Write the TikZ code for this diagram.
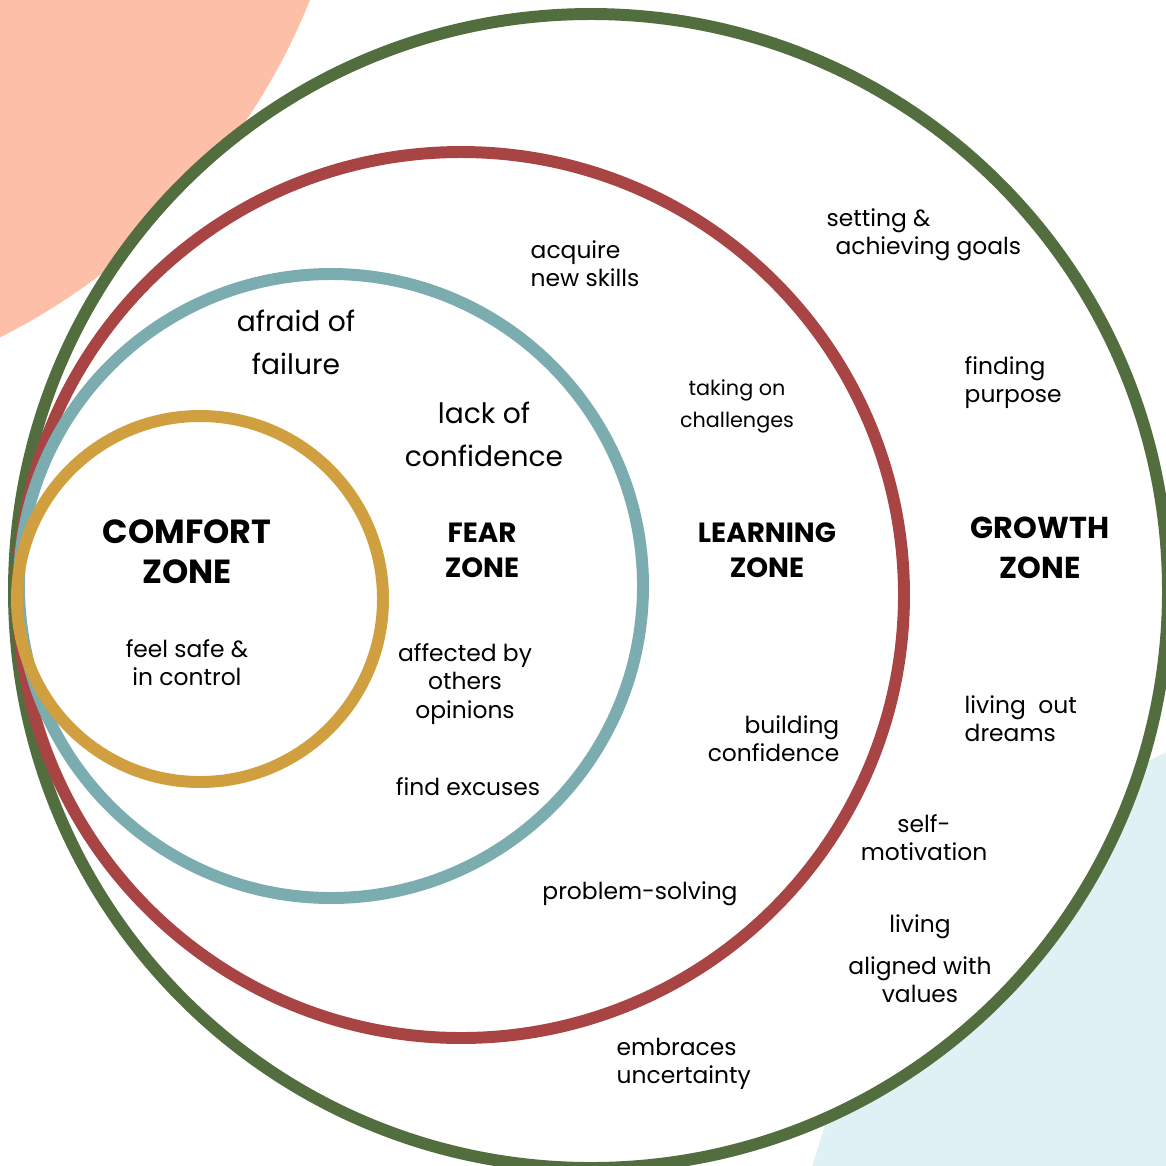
\documentclass[tikz,border=0pt]{standalone}
\usepackage{fontspec}
\setmainfont{Poppins}
\definecolor{ringgreen}{HTML}{536E3E}
\definecolor{ringred}{HTML}{A84444}
\definecolor{ringteal}{HTML}{7AACB0}
\definecolor{ringgold}{HTML}{CF9F40}
\definecolor{blobpeach}{HTML}{FDBFA8}
\definecolor{blobblue}{HTML}{E0F1F6}
\tikzset {
    zone ring/.style = {draw = #1, line width = 3.4pt},
    blob/.style = {fill = #1, draw = none},
    zone title/.style = {
        align = center, inner sep = 0pt,
        font = \bfseries\fontsize{#1}{11.4}\selectfont
    },
    zone title/.default = 9.5,
    small title/.style = {
        align = center, inner sep = 0pt,
        font = \bfseries\fontsize{7.9}{10}\selectfont
    },
    big note/.style = {
        align = center, inner sep = 0pt,
        font = \fontsize{8}{12.3}\selectfont
    },
    note/.style = {
        align = center, inner sep = 0pt,
        font = \fontsize{6.65}{8}\selectfont
    },
    tiny note/.style = {
        align = center, inner sep = 0pt,
        font = \fontsize{5.9}{9.1}\selectfont
    }
}
\begin{document}
\begin{tikzpicture}[x = 0.01cm, y = -0.01cm]
    \useasboundingbox (0, 0) rectangle (1166, 1166);
    \clip (0, 0) rectangle (1166, 1166);
    % background blobs
    \coordinate (peach) at (-290, -240);
    \coordinate (blue) at (1438, 1343);
    \fill [blob = blobpeach] (peach) circle (646);
    \fill [blob = blobblue] (blue) circle (650);
    % the four zones
    \coordinate (growth c) at (591, 591);
    \coordinate (learning c) at (461, 595);
    \coordinate (fear c) at (331, 586);
    \coordinate (comfort c) at (200, 599);
    \draw [zone ring = ringgreen, fill = white] (growth c) circle (577);
    \draw [zone ring = ringred] (learning c) circle (443);
    \draw [zone ring = ringteal] (fear c) circle (312);
    \draw [zone ring = ringgold] (comfort c) circle (183);
    % titles
    \node (comfort) [zone title] at (187, 552) {COMFORT\\ZONE};
    \node (fear) [small title] at (482, 550) {FEAR\\ZONE};
    \node (learning) [small title] at (767, 550) {LEARNING\\ZONE};
    \node (growth) [zone title = 8.6] at (1040, 548) {GROWTH\\ZONE};
    % comfort zone
    \node (safe) [note] at (187, 663) {feel safe \&\\in control};
    % fear zone
    \node (afraid) [big note] at (296, 342) {afraid of\\failure};
    \node (lack) [big note] at (484, 434) {lack of\\confidence};
    \node (affected) [note] at (465, 684) {affected by\\others\\opinions};
    \node (excuses) [note] at (468, 787) {find excuses};
    % learning zone
    \node (skills) [note, align = left, anchor = west] at (530, 264)
        {acquire\\new skills};
    \node (challenges) [tiny note] at (737, 406) {taking on\\challenges};
    \node (building) [note, align = right, anchor = east] at (840, 739)
        {building\\confidence};
    \node (problem) [note] at (640, 894) {problem-solving};
    \node (uncertainty) [note, align = left, anchor = west] at (616, 1064)
        {embraces\\uncertainty};
    % growth zone
    \node (goals) [note, align = left, anchor = west] at (826, 235)
        {setting \&\\\hspace*{2.5pt}achieving goals};
    \node (purpose) [note, align = left, anchor = west] at (964, 383)
        {finding\\purpose};
    \node (dreams) [note, align = left, anchor = west] at (964, 719)
        {living\ \ out\\dreams};
    \node (motivation) [note] at (924, 838) {self-\\motivation};
    \node (values) [note] at (920, 959) {living\\[4pt]aligned with\\values};
\end{tikzpicture}
\end{document}
